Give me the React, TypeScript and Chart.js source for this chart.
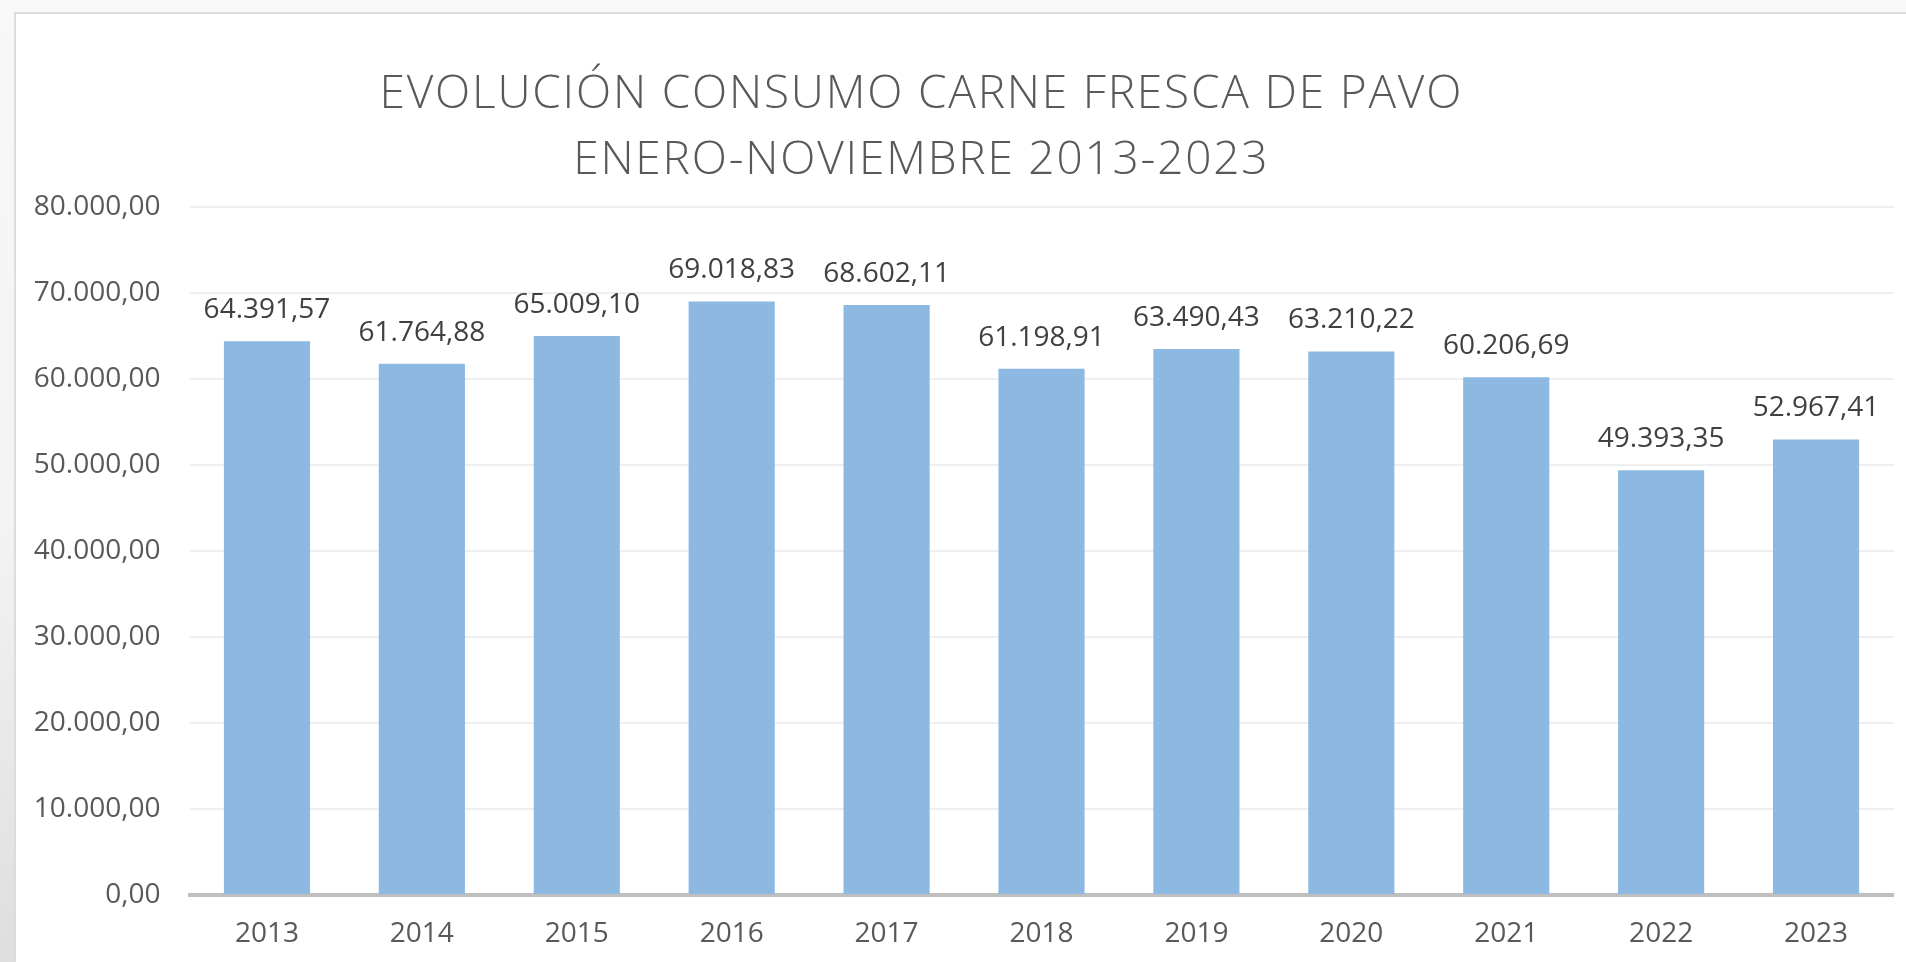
import React, { useEffect, useRef } from "react";
import { Chart, registerables } from "chart.js";

Chart.register(...registerables);

const categories = ["2013", "2014", "2015", "2016", "2017", "2018", "2019", "2020", "2021", "2022", "2023"];
const consumo = [64391.57, 61764.88, 65009.1, 69018.83, 68602.11, 61198.91, 63490.43, 63210.22, 60206.69, 49393.35, 52967.41];
const titleLines = ["EVOLUCIÓN CONSUMO CARNE FRESCA DE PAVO", "ENERO-NOVIEMBRE 2013-2023"];
const yMin = 0;
const yMax = 80000;
const yStep = 10000;

function fmt(v: number): string {
  const [i, d] = v.toFixed(2).split(".");
  return i.replace(/\B(?=(\d{3})+(?!\d))/g, ".") + "," + d;
}

const FONT = "'Open Sans', sans-serif";

const titlePlugin = {
  id: "customTitle",
  afterDraw(chart: any) {
    const ctx = chart.ctx;
    ctx.save();
    ctx.fillStyle = "#595959";
    ctx.font = `300 46px ${FONT}`;
    (ctx as any).letterSpacing = "1.8px";
    ctx.textAlign = "center";
    ctx.textBaseline = "alphabetic";
    const cx = chart.width * 0.479;
    ctx.fillText(titleLines[0], cx, 93.5);
    ctx.fillText(titleLines[1], cx, 159.5);
    ctx.restore();
  },
};

const labelPlugin = {
  id: "valueLabels",
  afterDatasetsDraw(chart: any) {
    const ctx = chart.ctx;
    const meta = chart.getDatasetMeta(0);
    ctx.save();
    ctx.fillStyle = "#404040";
    ctx.font = `28px ${FONT}`;
    ctx.textAlign = "center";
    ctx.textBaseline = "middle";
    meta.data.forEach((bar: any, i: number) => {
      ctx.fillText(fmt(consumo[i]), bar.x, bar.y - 31);
    });
    ctx.restore();
  },
};

export default function App() {
  const ref = useRef<HTMLCanvasElement>(null);
  useEffect(() => {
    document.body.style.margin = "0";
    const chart = new Chart(ref.current!, {
      type: "bar",
      data: {
        labels: categories,
        datasets: [
          {
            data: consumo,
            backgroundColor: "#8cb8e2",
            categoryPercentage: 1,
            barPercentage: 0.556,
          },
        ],
      },
      options: {
        animation: false,
        responsive: false,
        maintainAspectRatio: false,
        layout: { padding: { top: 193, right: 12.5, bottom: 0, left: 0 } },
        plugins: { legend: { display: false }, title: { display: false }, tooltip: { enabled: false } },
        scales: {
          x: {
            grid: { display: false, drawTicks: false },
            border: { display: true, color: "#bfbfbf", width: 4 },
            ticks: { color: "#595959", font: { family: FONT, size: 28 }, padding: 22 },
            afterFit: (s: any) => {
              s.height = 67;
            },
          },
          y: {
            min: yMin,
            max: yMax,
            grid: { color: "#efefef", lineWidth: 2, drawTicks: false },
            border: { display: false },
            ticks: {
              stepSize: yStep,
              color: "#595959",
              font: { family: FONT, size: 28 },
              padding: 29,
              callback: (v: any) => fmt(Number(v)),
            },
            afterFit: (s: any) => {
              s.width = 173.5;
            },
          },
        },
      },
      plugins: [titlePlugin, labelPlugin],
    });
    return () => chart.destroy();
  }, []);

  return (
    <div
      style={{
        position: "absolute",
        left: 0,
        top: 0,
        width: 1906,
        height: 962,
        overflow: "hidden",
        background: "linear-gradient(to bottom, #f8f8f8 0%, #f3f3f3 55%, #dedede 100%)",
      }}
    >
      <div
        style={{
          position: "absolute",
          left: 14,
          top: 12,
          width: 1892,
          height: 950,
          background: "#ffffff",
          borderTop: "2px solid #dcdcdc",
          borderLeft: "2px solid #dcdcdc",
          boxSizing: "border-box",
        }}
      >
        <canvas ref={ref} width={1890} height={948} style={{ display: "block", width: 1890, height: 948 }} />
      </div>
    </div>
  );
}
